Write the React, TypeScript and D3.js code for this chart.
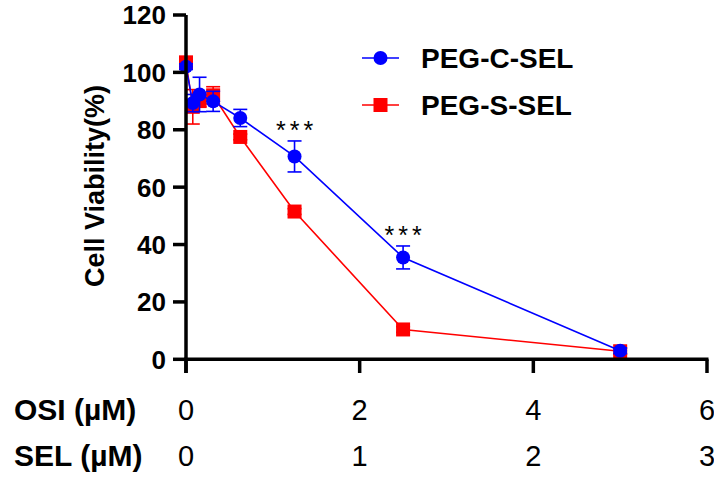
import React from "react";
import * as d3 from "d3";

const concentrations = [0, 0.078, 0.156, 0.3125, 0.625, 1.25, 2.5, 5];
const cSelMean = [102, 89.3, 92.3, 89.9, 84.1, 70.7, 35.5, 3.0];
const cSelErr = [1, 3, 6, 3.5, 3, 5.4, 4, 1];
const sSelMean = [103.5, 88, 90, 92, 77.5, 51.5, 10.4, 2.8];
const sSelErr = [1, 6, 2, 3, 1, 1, 1, 1];
const yTicks = [0, 20, 40, 60, 80, 100, 120];
const osiTicks = [0, 2, 4, 6];
const selTickLabels = ["0", "1", "2", "3"];
const sigIndices = [5, 6];
const seriesNames = ["PEG-C-SEL", "PEG-S-SEL"];

const FONT = "'Liberation Sans', Arial, sans-serif";

export default function App() {
  const x = d3.scaleLinear().domain([0, 6]).range([186, 707]);
  const y = d3.scaleLinear().domain([0, 120]).range([359.3, 15]);
  const line = d3
    .line<number>()
    .x((_, i) => x(concentrations[i]))
    .y((d) => y(d));

  const blue = "#0000FF";
  const red = "#FF0000";
  const capW = 7;

  const errBars = (means: number[], errs: number[], color: string) =>
    means.map((m, i) => {
      const cx = x(concentrations[i]);
      const top = y(m + errs[i]);
      const bot = y(m - errs[i]);
      return (
        <g key={i} stroke={color} strokeWidth={1.6}>
          <line x1={cx} x2={cx} y1={top} y2={bot} />
          <line x1={cx - capW} x2={cx + capW} y1={top} y2={top} />
          <line x1={cx - capW} x2={cx + capW} y1={bot} y2={bot} />
        </g>
      );
    });

  return (
    <svg
      width={714}
      height={479}
      style={{ position: "absolute", left: 0, top: 0, background: "#fff" }}
      fontFamily={FONT}
    >
      {/* Red series */}
      <path d={line(sSelMean) || ""} fill="none" stroke={red} strokeWidth={1.6} />
      {errBars(sSelMean, sSelErr, red)}
      {sSelMean.map((m, i) => (
        <rect
          key={i}
          x={x(concentrations[i]) - 7}
          y={y(m) - 7}
          width={14}
          height={14}
          fill={red}
        />
      ))}
      {/* Blue series */}
      <path d={line(cSelMean) || ""} fill="none" stroke={blue} strokeWidth={1.6} />
      {errBars(cSelMean, cSelErr, blue)}
      {cSelMean.map((m, i) => (
        <circle key={i} cx={x(concentrations[i])} cy={y(m)} r={7} fill={blue} />
      ))}

      {/* significance */}
      {sigIndices.map((i) => (
        <text
          key={i}
          x={x(concentrations[i]) + 2}
          y={y(cSelMean[i] + cSelErr[i]) - 2}
          textAnchor="middle"
          fontSize={25}
          letterSpacing={4}
          fill="#000"
        >
          ***
        </text>
      ))}

      {/* Y axis */}
      <line x1={186} x2={186} y1={y(120)} y2={373} stroke="#000" strokeWidth={3.5} />
      {yTicks.map((t) => (
        <g key={t}>
          <line x1={173} x2={186} y1={y(t)} y2={y(t)} stroke="#000" strokeWidth={3.5} />
          <text
            x={166}
            y={y(t)}
            dy="0.36em"
            textAnchor="end"
            fontSize={26}
            fontWeight="bold"
          >
            {t}
          </text>
        </g>
      ))}
      <text
        transform={`translate(104,186) rotate(-90)`}
        textAnchor="middle"
        fontSize={27}
        fontWeight="bold"
      >
        Cell Viability(%)
      </text>

      {/* X axis */}
      <line x1={184.25} x2={x(6) + 1.5} y1={y(0)} y2={y(0)} stroke="#000" strokeWidth={3.5} />
      {osiTicks.map((t) => (
        <line key={t} x1={x(t)} x2={x(t)} y1={y(0)} y2={373} stroke="#000" strokeWidth={3.5} />
      ))}
      <text x={14} y={420} fontSize={30} fontWeight="bold">
        OSI (µM)
      </text>
      <text x={14} y={466} fontSize={30} fontWeight="bold">
        SEL (µM)
      </text>
      {osiTicks.map((t, i) => (
        <g key={t}>
          <text x={x(t)} y={420} textAnchor="middle" fontSize={29}>
            {t}
          </text>
          <text x={x(t)} y={466} textAnchor="middle" fontSize={29}>
            {selTickLabels[i]}
          </text>
        </g>
      ))}

      {/* Legend */}
      <g>
        <line x1={362} x2={399} y1={58} y2={58} stroke={blue} strokeWidth={1.6} />
        <circle cx={380.5} cy={58} r={7} fill={blue} />
        <text x={421} y={68} fontSize={28} fontWeight="bold">
          {seriesNames[0]}
        </text>
        <line x1={362} x2={399} y1={105} y2={105} stroke={red} strokeWidth={1.6} />
        <rect x={373.5} y={98} width={14} height={14} fill={red} />
        <text x={421} y={115} fontSize={28} fontWeight="bold">
          {seriesNames[1]}
        </text>
      </g>
    </svg>
  );
}
